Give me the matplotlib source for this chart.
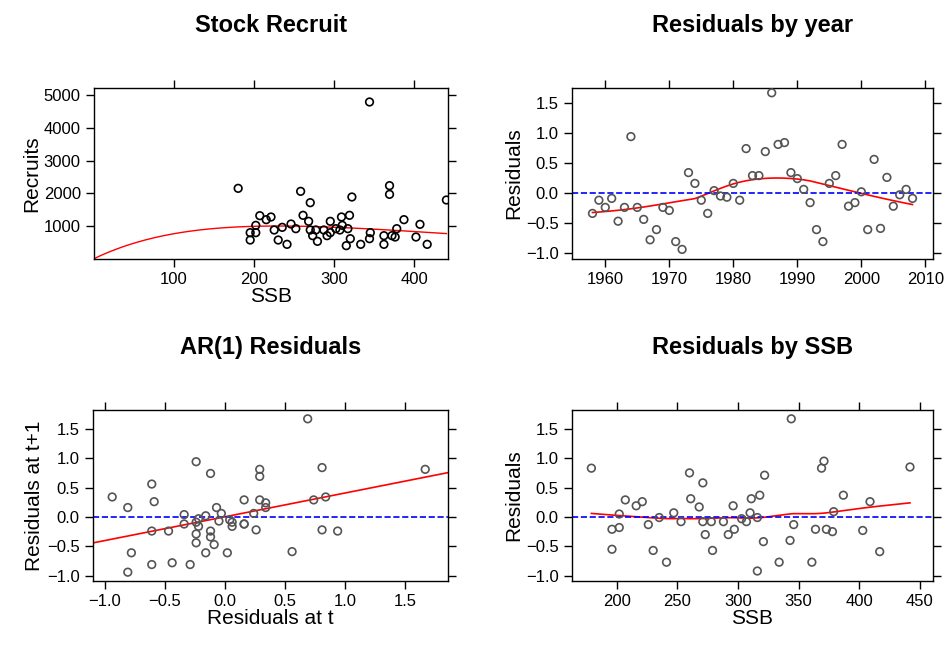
import numpy as np
import matplotlib
matplotlib.use("Agg")
import matplotlib.pyplot as plt

plt.rcParams['font.family'] = ['Liberation Sans', 'DejaVu Sans']

ssb = [180, 195, 195, 202, 202, 207, 215, 221, 225, 230, 235, 241, 246, 252, 258, 261,
       268, 270, 270, 273, 277, 279, 287, 291, 295, 295, 302, 307, 309, 310, 315, 317,
       319, 320, 322, 333, 344, 345, 344, 362, 362, 369, 369, 372, 376, 378, 387, 402,
       407, 416, 440]
recruits = [2153, 571, 796, 796, 1020, 1316, 1194, 1276, 878, 571, 959, 439, 1061, 918,
            2061, 1327, 1143, 1714, 878, 704, 878, 531, 878, 704, 1143, 796, 918, 878,
            1276, 1020, 398, 918, 1327, 612, 1888, 439, 4796, 796, 612, 704, 439, 2235,
            1969, 704, 663, 918, 1194, 663, 1051, 439, 1796]

# residuals by year
years = list(range(1958, 2009))
resid = [-0.34, -0.12, -0.24, -0.09, -0.47, -0.24, 0.94, -0.24, -0.44, -0.78, -0.61,
         -0.24, -0.29, -0.81, -0.94, 0.34, 0.16, -0.12, -0.34, 0.04, -0.05, -0.07, 0.16,
         -0.12, 0.74, 0.29, 0.29, 0.69, 1.67, 0.81, 0.84, 0.34, 0.24, 0.06, -0.16, -0.61,
         -0.81, 0.16, 0.29, 0.81, -0.22, -0.16, 0.02, -0.61, 0.56, -0.59, 0.26, -0.22,
         -0.03, 0.06, -0.09]

# residuals against SSB (panel 4)
ssb_r = [179, 196, 196, 202, 202, 207, 216, 221, 226, 230, 235, 241, 247, 253, 260, 261,
         268, 271, 271, 273, 278, 279, 288, 292, 296, 297, 303, 307, 310, 311, 316, 316,
         318, 321, 322, 334, 343, 344, 346, 361, 364, 369, 371, 373, 378, 379, 387, 403,
         409, 417, 442]
resid_ssb = [0.83, -0.21, -0.55, 0.05, -0.18, 0.29, 0.19, 0.26, -0.13, -0.57, -0.01,
             -0.77, 0.07, -0.08, 0.75, 0.31, 0.17, 0.58, -0.08, -0.30, -0.08, -0.57,
             -0.08, -0.30, 0.19, -0.21, -0.03, -0.08, 0.07, 0.31, -0.01, -0.92, 0.37,
             -0.42, 0.71, -0.77, -0.40, 1.67, -0.13, -0.77, -0.21, 0.83, 0.95, -0.21,
             -0.25, 0.09, 0.37, -0.23, 0.26, -0.59, 0.85]

# ricker fit parameters
ricker_a = 11.82
ricker_b = 1 / 230.0


def loess(x, y, span=2/3.):
    x = np.asarray(x, float); y = np.asarray(y, float)
    o = np.argsort(x); x = x[o]; y = y[o]
    n = len(x); k = int(np.ceil(span * n))
    fit = []
    for xi in x:
        d = np.abs(x - xi)
        h = np.sort(d)[k - 1]
        w = np.clip(1 - (d / h) ** 3, 0, None) ** 3
        W = np.sqrt(w)
        A = np.vstack([np.ones(n), x]).T * W[:, None]
        beta = np.linalg.lstsq(A, y * W, rcond=None)[0]
        fit.append(beta[0] + beta[1] * xi)
    return x, np.array(fit)


W, H = 947, 646
fig = plt.figure(figsize=(W / 100, H / 100), dpi=100)


def panel(l, r, t, b):
    ax = fig.add_axes([l / W, 1 - b / H, (r - l) / W, (b - t) / H])
    ax.tick_params(direction="out", length=6, labelsize=12, top=True, right=True,
                   labeltop=False, labelright=False, width=1)
    for s in ax.spines.values():
        s.set_linewidth(1)
    return ax


grey = "#555555"

# panel 1
ax = panel(94, 448, 88, 259)
ax.scatter(ssb, recruits, s=30, facecolors="none", edgecolors="black", linewidths=1.2, zorder=3)
xs = np.linspace(0, 440, 200)
ax.plot(xs, ricker_a * xs * np.exp(-ricker_b * xs), color="red", lw=1)
ax.set_xlim(0, 442); ax.set_ylim(-10, 5224)
ax.set_xticks([100, 200, 300, 400]); ax.set_yticks([1000, 2000, 3000, 4000, 5000])
ax.set_xlabel("SSB", fontsize=15, labelpad=0); ax.set_ylabel("Recruits", fontsize=15, labelpad=2)
ax.set_title("Stock Recruit", fontsize=17, fontweight="bold", pad=40)

# panel 2
ax = panel(572, 933, 88, 259)
ax.scatter(years, resid, s=30, facecolors="none", edgecolors=grey, linewidths=1.2, zorder=3)
lx, ly = loess(years, resid)
ax.plot(lx, ly, color="red", lw=1.2)
ax.axhline(0, color="blue", ls="--", lw=1.2)
ax.set_xlim(1954.8, 2011.2); ax.set_ylim(-1.1, 1.75)
ax.set_xticks(range(1960, 2011, 10)); ax.set_yticks([-1.0, -0.5, 0.0, 0.5, 1.0, 1.5])
ax.set_ylabel("Residuals", fontsize=15, labelpad=2)
ax.set_title("Residuals by year", fontsize=17, fontweight="bold", pad=40)

# panel 3
ax = panel(93, 448, 410, 581)
rt = np.array(resid[:-1]); rt1 = np.array(resid[1:])
ax.scatter(rt, rt1, s=30, facecolors="none", edgecolors=grey, linewidths=1.2, zorder=3)
m, c = np.polyfit(rt, rt1, 1)
xl = np.array([-1.1, 1.86])
ax.plot(xl, m * xl + c, color="red", lw=1.2)
ax.axhline(0, color="blue", ls="--", lw=1.2)
ax.set_xlim(-1.1, 1.86); ax.set_ylim(-1.09, 1.82)
ax.set_xticks([-1.0, -0.5, 0.0, 0.5, 1.0, 1.5]); ax.set_yticks([-1.0, -0.5, 0.0, 0.5, 1.0, 1.5])
ax.set_xlabel("Residuals at t", fontsize=15, labelpad=0)
ax.set_ylabel("Residuals at t+1", fontsize=15, labelpad=2)
ax.set_title("AR(1) Residuals", fontsize=17, fontweight="bold", pad=40)

# panel 4
ax = panel(572, 933, 410, 581)
ax.scatter(ssb_r, resid_ssb, s=30, facecolors="none", edgecolors=grey, linewidths=1.2, zorder=3)
lx, ly = loess(ssb_r, resid_ssb)
ax.plot(lx, ly, color="red", lw=1.2)
ax.axhline(0, color="blue", ls="--", lw=1.2)
ax.set_xlim(163, 461); ax.set_ylim(-1.09, 1.82)
ax.set_xticks([200, 250, 300, 350, 400, 450]); ax.set_yticks([-1.0, -0.5, 0.0, 0.5, 1.0, 1.5])
ax.set_xlabel("SSB", fontsize=15, labelpad=0)
ax.set_ylabel("Residuals", fontsize=15, labelpad=2)
ax.set_title("Residuals by SSB", fontsize=17, fontweight="bold", pad=40)

fig.savefig("out.png", dpi=100)
